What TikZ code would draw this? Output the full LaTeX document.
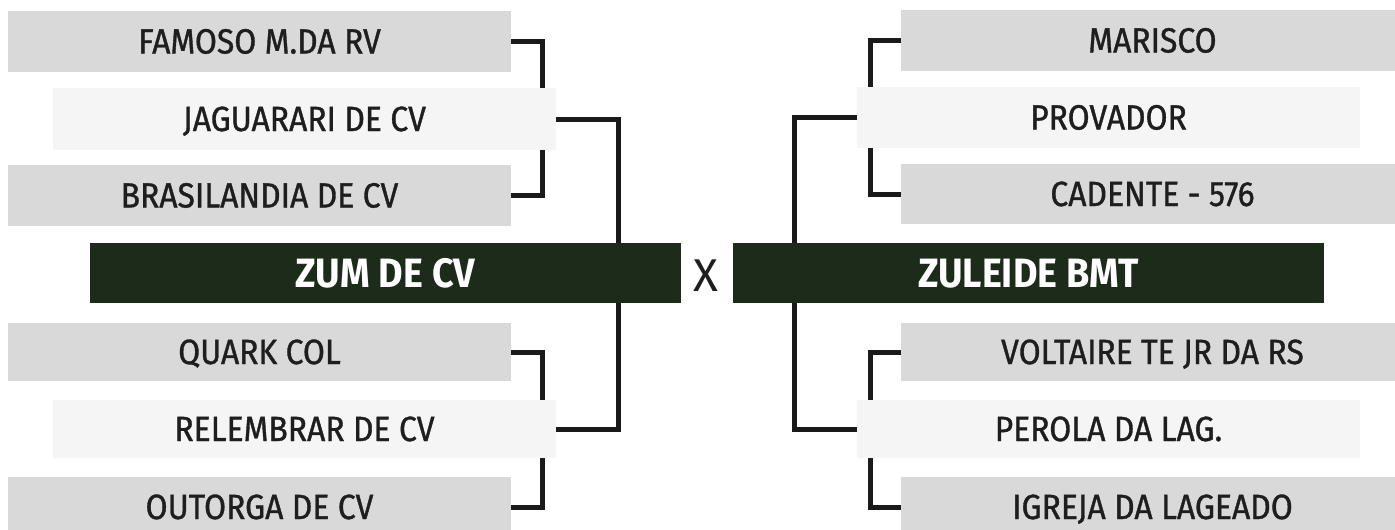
\documentclass[tikz,border=0pt]{standalone}
\usepackage{fontspec}
\setmainfont{Fira Sans}
\newfontfamily\labfont[FakeStretch=0.91, FakeBold=1.0]{Fira Sans}
\newfontfamily\teamfont[FakeStretch=0.92]{Fira Sans Bold}
\usetikzlibrary{backgrounds}
\definecolor{gbox}{HTML}{D9D9D9}
\definecolor{lbox}{HTML}{F5F5F5}
\definecolor{dbox}{HTML}{1C2B1A}
\definecolor{txt}{HTML}{1E1E1E}
\definecolor{lin}{HTML}{1A1A1A}
\tikzset{
  base/.style={inner sep=0pt, outer sep=0pt, minimum width=503pt, text=txt,
    font=\labfont\fontsize{35}{40}\selectfont, text height=24pt, text depth=0pt},
  graybox/.style={base, fill=gbox},
  lightbox/.style={base, fill=lbox},
  teambox/.style={inner sep=0pt, outer sep=0pt, minimum width=591pt, minimum height=60pt,
    fill=dbox, text=white, font=\teamfont\fontsize{41}{46}\selectfont, text height=28pt, text depth=0pt},
  conn/.style={draw=lin, line width=5pt, line join=miter, line cap=butt},
}
\begin{document}
\begin{tikzpicture}[x=1pt,y=-1pt]
\useasboundingbox (0,0) rectangle (1395,530);
\clip (0,0) rectangle (1395,530);
% left side
\node[graybox, minimum height=61pt] (famoso) at (259.5,41.5) {FAMOSO M.DA RV};
\node[lightbox, minimum height=62pt] (jag) at (304.5,119) {JAGUARARI DE CV};
\node[graybox, minimum height=61pt] (bras) at (259.5,195.5) {BRASILANDIA DE CV};
\node[teambox] (zum) at (385.5,273) {ZUM DE CV};
\node[graybox, minimum height=58pt] (quark) at (259.5,352) {QUARK COL};
\node[lightbox, minimum height=58pt] (rel) at (304.5,429) {RELEMBRAR DE CV};
\node[graybox, minimum height=60pt] (out) at (259.5,507) {OUTORGA DE CV};
% right side
\node[graybox, minimum height=61pt] (mar) at (1152.5,40.5) {MARISCO};
\node[lightbox, minimum height=61pt] (prov) at (1108.5,117.5) {PROVADOR};
\node[graybox, minimum height=60pt] (cad) at (1152.5,194) {CADENTE - 576};
\node[teambox] (zul) at (1028.5,273) {ZULEIDE BMT};
\node[graybox, minimum height=58pt] (volt) at (1152.5,352) {VOLTAIRE TE JR DA RS};
\node[lightbox, minimum height=58pt] (per) at (1108.5,429) {PEROLA DA LAG.};
\node[graybox, minimum height=60pt] (igr) at (1152.5,507) {IGREJA DA LAGEADO};
% versus
\node[inner sep=0pt, text=txt, font=\fontsize{46}{50}\selectfont, text height=32pt, text depth=0pt] (vs) at (706,275) {X};
\begin{scope}[on background layer]
\draw[conn] (famoso.east) -- ++(31,0) |- (bras.east);
\draw[conn] (jag.east) -- ++(62,0) |- (rel.east);
\draw[conn] (quark.east) -- ++(31,0) |- (out.east);
\draw[conn] (mar.west) -- ++(-31,0) |- (cad.west);
\draw[conn] (prov.west) -- ++(-63,0) |- (per.west);
\draw[conn] (volt.west) -- ++(-31,0) |- (igr.west);
\end{scope}
\end{tikzpicture}
\end{document}
